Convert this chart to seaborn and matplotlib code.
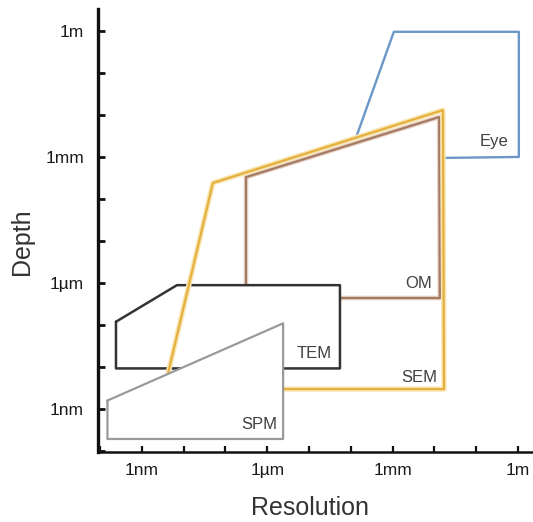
import numpy as np
import pandas as pd
import matplotlib
matplotlib.use("Agg")
import matplotlib.pyplot as plt
import matplotlib.patheffects as pe
from matplotlib.ticker import FixedLocator, FixedFormatter, NullLocator
import seaborn as sns

# ---- data (metres) ----
eye_res   = [1.4e-4, 1.07e-3, 1.05, 1.05, 1.9e-2]
eye_depth = [3.3e-3, 0.95, 0.95, 1.0e-3, 9.5e-4]

sem_res   = [4.3e-9, 5.0e-8, 1.6e-2, 1.7e-2, 2.4e-6]
sem_depth = [7.6e-9, 2.4e-4, 1.3e-2, 3.0e-9, 3.0e-9]

om_res    = [3.1e-7, 1.3e-2, 1.35e-2, 3.1e-7]
om_depth  = [3.3e-4, 8.9e-3, 4.4e-7, 4.4e-7]

tem_res   = [2.4e-10, 6.9e-9, 5.5e-5, 5.5e-5, 2.4e-10]
tem_depth = [1.2e-7, 8.9e-7, 8.9e-7, 9.3e-9, 9.3e-9]

spm_res   = [1.5e-10, 2.4e-6, 2.4e-6, 1.5e-10]
spm_depth = [1.6e-9, 1.1e-7, 1.95e-10, 1.95e-10]

labels = ["Eye", "OM", "SEM", "TEM", "SPM"]
label_res   = [0.58, 8.7e-3, 1.15e-2, 3.5e-5, 1.7e-6]
label_depth = [2.3e-3, 9.5e-7, 5.8e-9, 2.1e-8, 4.4e-10]

tick_vals  = [1e-9, 1e-6, 1e-3, 1.0]
tick_names = ["1nm", "1\u00b5m", "1mm", "1m"]
decades = [10.0 ** k for k in range(-10, 1)]

colors = {"Eye": "#6b98c6", "SEM": "#e6b040", "OM": "#a47a62",
          "TEM": "#333333", "SPM": "#9a9a9a"}

sns.set_theme(style="white")
plt.rcParams["font.family"] = ["Liberation Sans", "DejaVu Sans"]

fig = plt.figure(figsize=(5.33, 5.22), dpi=100)
ax = fig.add_axes([98/533, 70/522, 435/533, 443/522])
ax.set_xscale("log")
ax.set_yscale("log")
ax.set_xlim(10 ** -10.05, 10 ** 0.36)
ax.set_ylim(10 ** -10.02, 10 ** 0.52)

def closed(xs, ys):
    return list(xs) + [xs[0]], list(ys) + [ys[0]]

# Eye (open outline)
sns.lineplot(x=eye_res, y=eye_depth, sort=False, estimator=None, ax=ax,
             color=colors["Eye"], lw=1.7, zorder=1)

# OM (filled white)
ax.fill(om_res, om_depth, facecolor="white", edgecolor="none", zorder=2)
ox, oy = closed(om_res, om_depth)
sns.lineplot(x=ox, y=oy, sort=False, estimator=None, ax=ax,
             color=colors["OM"], lw=1.6, zorder=2.1,
             path_effects=[pe.Stroke(linewidth=3.4, foreground="#e8d3c8"), pe.Normal()])

# TEM (filled white)
ax.fill(tem_res, tem_depth, facecolor="white", edgecolor="none", zorder=3)
tx, ty = closed(tem_res, tem_depth)
sns.lineplot(x=tx, y=ty, sort=False, estimator=None, ax=ax,
             color=colors["TEM"], lw=1.8, zorder=3.1)

# SEM (open outline)
sns.lineplot(x=sem_res, y=sem_depth, sort=False, estimator=None, ax=ax,
             color=colors["SEM"], lw=1.6, zorder=4,
             path_effects=[pe.Stroke(linewidth=3.8, foreground="#f8e6b0"), pe.Normal()])

# SPM (filled white)
ax.fill(spm_res, spm_depth, facecolor="white", edgecolor="none", zorder=5)
sx, sy = closed(spm_res, spm_depth)
sns.lineplot(x=sx, y=sy, sort=False, estimator=None, ax=ax,
             color=colors["SPM"], lw=1.6, zorder=5.1)

for name, xr, yd in zip(labels, label_res, label_depth):
    ax.text(xr, yd, name, ha="right", va="center", fontsize=12,
            color="#404040", zorder=6)

# axes styling
sns.despine(ax=ax, top=True, right=True)
ax.spines["left"].set_linewidth(2.4)
ax.spines["bottom"].set_linewidth(1.8)
ax.spines["left"].set_color("#111111")
ax.spines["bottom"].set_color("#111111")

for axis in (ax.xaxis, ax.yaxis):
    axis.set_major_locator(FixedLocator(decades))
    axis.set_minor_locator(NullLocator())
labs = [tick_names[tick_vals.index(d)] if d in tick_vals else "" for d in decades]
ax.xaxis.set_major_formatter(FixedFormatter(labs))
ax.yaxis.set_major_formatter(FixedFormatter(labs))

ax.tick_params(axis="y", direction="in", length=5, width=2.0, color="#111111",
               labelsize=12.5, pad=10, left=True, labelcolor="#1a1a1a")
ax.tick_params(axis="x", direction="in", length=4, width=1.6, color="#111111",
               labelsize=12.5, pad=8, bottom=True, labelcolor="#1a1a1a")

ax.set_xlabel("Resolution", fontsize=18, color="#333333", va="center")
ax.set_ylabel("Depth", fontsize=18, color="#333333", va="center")
ax.xaxis.set_label_coords((310 - 98) / 435, -(508 - 452) / 443)
ax.yaxis.set_label_coords(-(98 - 22) / 435, (452 - 242) / 443)

fig.savefig("out.png", dpi=100)
